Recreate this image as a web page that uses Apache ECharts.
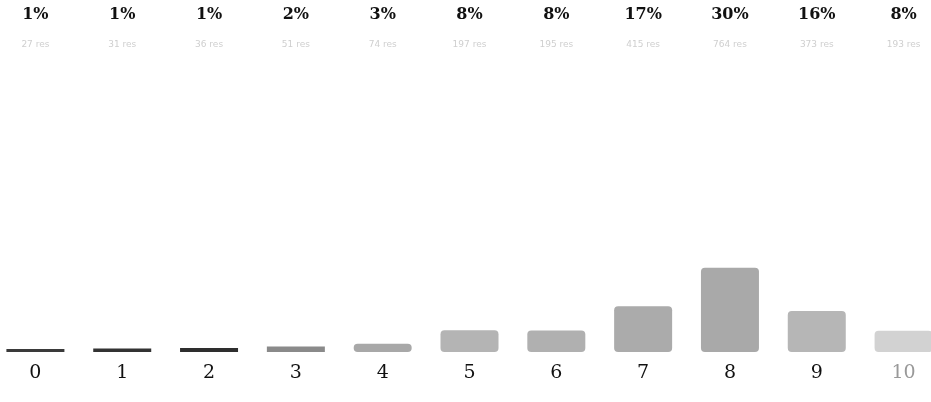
<!DOCTYPE html>
<html>
<head>
<meta charset="utf-8">
<script src="https://cdn.jsdelivr.net/npm/echarts@6/dist/echarts.min.js"></script>
<style>
  html, body { margin: 0; padding: 0; background: #fff; }
  #chart { width: 931px; height: 402px; }
</style>
</head>
<body>
<div id="chart"></div>
<script>
// ratings 0..10
const categories = ['0', '1', '2', '3', '4', '5', '6', '7', '8', '9', '10']
const counts = [27, 31, 36, 51, 74, 197, 195, 415, 764, 373, 193]
const percents = ['1%', '1%', '1%', '2%', '3%', '8%', '8%', '17%', '30%', '16%', '8%']

// bar shades (small bars look like dark strokes in the original)
const barColors = ['#3a3a3a', '#333333', '#2e2e2e', '#8a8a8a', '#a8a8a8', '#b4b4b4',
  '#b0b0b0', '#ababab', '#a9a9a9', '#b6b6b6', '#d2d2d2']

const chart = echarts.init(document.getElementById('chart'))

const option = {
  backgroundColor: '#fff',
  animation: false,
  grid: {
    outerBoundsMode: 'none',
    left: -8,
    width: 955,
    top: 60,
    bottom: 50
  },
  xAxis: [{
    type: 'category',
    data: categories,
    position: 'bottom',
    axisLine: { show: false },
    axisTick: { show: false },
    axisLabel: {
      margin: 12,
      fontFamily: 'DejaVu Serif',
      fontSize: 19,
      color: (v) => v === '10' ? '#999' : '#111'
    }
  }, {
    type: 'category',
    data: categories,
    position: 'top',
    axisLine: { show: false },
    axisTick: { show: false },
    axisLabel: {
      margin: 8,
      formatter: (v, i) => '{p|' + percents[i] + '}\n{c|' + counts[i] + ' res}',
      rich: {
        p: {
          fontFamily: 'DejaVu Serif',
          fontWeight: 'bold',
          fontSize: 16,
          color: '#111',
          lineHeight: 46
        },
        c: {
          fontFamily: 'DejaVu Sans',
          fontSize: 9,
          color: '#cfcfcf',
          lineHeight: 14
        }
      }
    }
  }],
  yAxis: {
    type: 'value',
    min: 0,
    max: 2650,
    show: false,
    splitLine: { show: false }
  },
  series: [{
    type: 'bar',
    barWidth: 58,
    barMinHeight: 2,
    data: counts.map((v, i) => ({
      value: v,
      itemStyle: {
        color: barColors[i],
        borderRadius: v > 60 ? 4 : 0
      }
    }))
  }]
}

chart.setOption(option)
</script>
</body>
</html>
